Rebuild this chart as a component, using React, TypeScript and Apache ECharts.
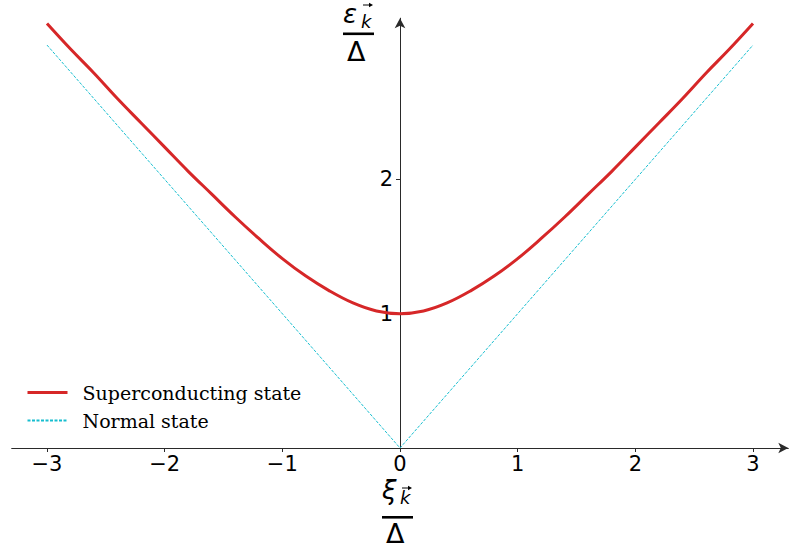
import React, { useEffect, useRef } from "react";
import * as echarts from "echarts";

// Reduced energy ξ/Δ sampled along the x axis
const xiValues = [
  -3, -2.8, -2.6, -2.4, -2.2, -2, -1.8, -1.6, -1.4, -1.2, -1, -0.8, -0.6, -0.4,
  -0.2, 0, 0.2, 0.4, 0.6, 0.8, 1, 1.2, 1.4, 1.6, 1.8, 2, 2.2, 2.4, 2.6, 2.8, 3,
];
// Quasiparticle energy ε/Δ in the superconducting state
const superValues = [
  3.16, 2.97, 2.79, 2.6, 2.42, 2.24, 2.06, 1.89, 1.72, 1.56, 1.41, 1.28, 1.17,
  1.08, 1.02, 1.0, 1.02, 1.08, 1.17, 1.28, 1.41, 1.56, 1.72, 1.89, 2.06, 2.24,
  2.42, 2.6, 2.79, 2.97, 3.16,
];
// Normal state: straight V through the origin
const normalXi = [-3, 0, 3];
const normalValues = [3, 0, 3];

const xTicks = [-3, -2, -1, 0, 1, 2, 3];
const yTicks = [1, 2];

const seriesNames = ["Superconducting state", "Normal state"];

const MATH_FONT = "DejaVu Sans";

const GRID_LEFT = 11.7;
const GRID_RIGHT = 2.7;
const X_MIN = -3.3;
const X_MAX = 3.3;

export default function App() {
  const ref = useRef<HTMLDivElement>(null);

  useEffect(() => {
    document.body.style.margin = "0";
    if (!ref.current) return;
    const chart = echarts.init(ref.current, undefined, { renderer: "svg" });

    const axisColor = "#2a2a2a";
    // horizontal pixel distance from the grid's left edge to ξ = 0
    const plotWidth = 791 - GRID_LEFT - GRID_RIGHT;
    const zeroShift = (plotWidth * (0 - X_MIN)) / (X_MAX - X_MIN);

    // A fraction "greek_k⃗ / Δ" built from text pieces, a vector arrow and a bar
    const fraction = (
      cx: number,
      numTop: number,
      arrowY: number,
      barY: number,
      denTop: number,
      greek: string
    ) => [
      {
        type: "text",
        left: cx - 15,
        top: numTop,
        style: {
          text: greek,
          font: `italic 26px "${MATH_FONT}"`,
          fill: "#000",
        },
      },
      {
        type: "text",
        left: cx + 3,
        top: numTop + 11,
        style: {
          text: "k",
          font: `italic 18px "${MATH_FONT}"`,
          fill: "#000",
        },
      },
      {
        type: "line",
        shape: { x1: cx + 5, y1: arrowY, x2: cx + 13, y2: arrowY },
        style: { stroke: "#000", lineWidth: 1 },
      },
      {
        type: "polygon",
        shape: {
          points: [
            [cx + 15, arrowY],
            [cx + 11, arrowY - 2.2],
            [cx + 11, arrowY + 2.2],
          ],
        },
        style: { fill: "#000" },
      },
      {
        type: "rect",
        shape: { x: cx - 15, y: barY, width: 31, height: 2.6 },
        style: { fill: "#000" },
      },
      {
        type: "text",
        left: cx - 11,
        top: denTop,
        style: {
          text: "Δ",
          font: `27px "${MATH_FONT}"`,
          fill: "#000",
        },
      },
    ];

    chart.setOption({
      animation: false,
      backgroundColor: "#fff",
      grid: { left: GRID_LEFT, right: GRID_RIGHT, top: 18.2, bottom: 102 },
      legend: {
        orient: "vertical",
        left: 21,
        top: 378,
        itemWidth: 40,
        itemHeight: 14,
        itemGap: 9,
        data: [
          { name: seriesNames[0], lineStyle: { width: 3 } },
          { name: seriesNames[1] },
        ],
        itemStyle: { opacity: 0 },
        textStyle: {
          fontFamily: "DejaVu Serif",
          fontSize: 19,
          color: "#000",
          padding: [0, 0, 0, 10],
        },
      },
      xAxis: {
        type: "value",
        min: X_MIN,
        max: X_MAX,
        splitLine: { show: false },
        axisLine: {
          onZero: true,
          symbol: ["none", "arrow"],
          symbolSize: [8, 10],
          lineStyle: { color: axisColor, width: 1 },
        },
        axisTick: {
          show: true,
          length: 4,
          lineStyle: { color: axisColor },
          customValues: xTicks,
        },
        axisLabel: {
          customValues: xTicks,
          margin: 5,
          fontFamily: "DejaVu Sans",
          fontSize: 21,
          color: "#000",
          formatter: (v: number) => String(v).replace("-", "\u2212"),
        },
      },
      yAxis: {
        type: "value",
        min: 0,
        max: 3.2,
        offset: -zeroShift,
        splitLine: { show: false },
        axisLine: {
          onZero: false,
          symbol: ["none", "arrow"],
          symbolSize: [8, 10],
          lineStyle: { color: axisColor, width: 1 },
        },
        axisTick: {
          show: true,
          length: 4,
          lineStyle: { color: axisColor },
          customValues: yTicks,
        },
        axisLabel: {
          customValues: yTicks,
          margin: 7,
          fontFamily: "DejaVu Sans",
          fontSize: 21,
          color: "#000",
        },
      },
      series: [
        {
          name: seriesNames[0],
          type: "line",
          data: xiValues.map((x, i) => [x, superValues[i]]),
          smooth: 0.4,
          symbol: "none",
          color: "#d62728",
          lineStyle: { color: "#d62728", width: 3 },
          z: 3,
        },
        {
          name: seriesNames[1],
          type: "line",
          data: normalXi.map((x, i) => [x, normalValues[i]]),
          symbol: "none",
          color: "#17becf",
          lineStyle: { color: "#17becf", width: 1, type: [3, 1.5] },
          z: 2,
        },
      ],
      graphic: [
        ...fraction(358, 1, 5, 32.5, 38, "ε"),
        ...fraction(397, 477, 488, 516, 520, "ξ"),
      ],
    });

    return () => chart.dispose();
  }, []);

  return <div ref={ref} style={{ width: 791, height: 550 }} />;
}
